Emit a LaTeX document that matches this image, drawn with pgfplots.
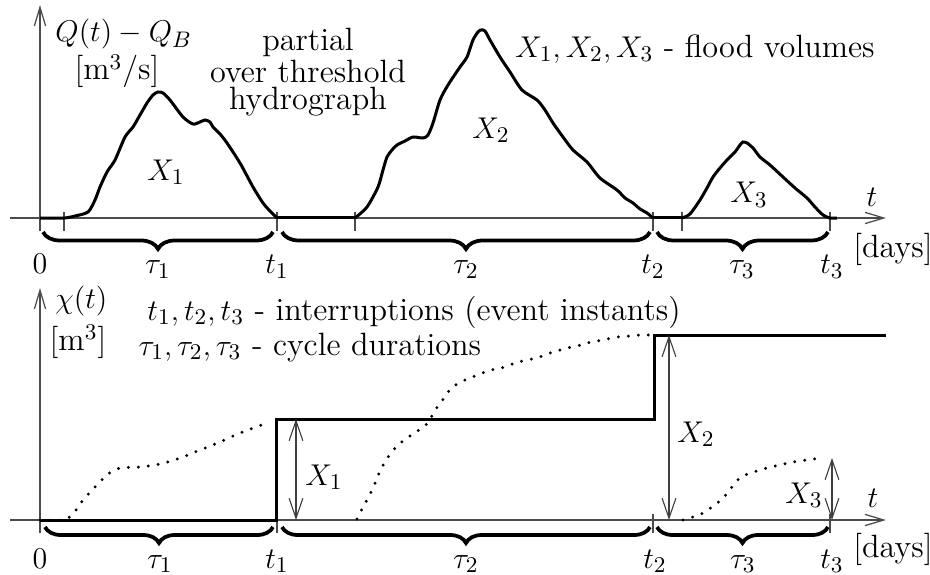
\documentclass[border=0pt]{standalone}
\usepackage{pgfplots}
\pgfplotsset{compat=1.18}
\usetikzlibrary{arrows.meta,decorations.pathreplacing}
\begin{document}
\begin{tikzpicture}[font=\fontsize{12.9}{14}\selectfont,
  lab/.style={inner sep=0pt},
  br/.style={decorate, line width=1.5pt},
  dbl/.style={line width=0.45pt, color=black!75, {Straight Barb[length=8pt,width=5.5pt]}-{Straight Barb[length=8pt,width=5.5pt]}}]
\pgfplotsset{
  myaxis/.style={
    x=0.4pt, y=0.4pt, xmin=-30, xmax=846, ymin=0,
    axis lines=middle, clip=false,
    axis line style={line width=0.5pt, color=black!70, -{Straight Barb[length=7.5pt,width=4.5pt]}},
    ytick=\empty, xticklabels={}, hide obscured x ticks=false,
    tick align=center, major tick length=7.6pt,
    xtick style={line width=0.5pt, color=black!70, yshift=-1.4pt},
  }
}
% ---------------- top panel ----------------
\begin{axis}[myaxis, ymax=213, xtick={0,24,237,315,613,642,790}]
\addplot[line width=1.2pt, smooth, tension=0.45] coordinates {
(0,0) (24,0) (35,2) (48,6) (55,18) (60,31) (67,46) (75,58) (85,81) (93,91) (100,103) (107,115) (113,123) (118,126) (123,125) (130,118) (143,101) (153,94) (160,96) (165,98) (170,96) (173,91) (180,84) (187,75) (200,55) (213,31) (223,15) (230,7) (237,0)
};
\addplot[line width=1.2pt] coordinates {(237,0) (315,0)};
\addplot[line width=1.2pt, smooth, tension=0.45] coordinates {
(315,0) (327,11) (338,31) (343,48) (347,61) (352,68) (357,73) (365,77) (373,81) (383,80) (388,83) (393,95) (400,118) (408,133) (420,151) (427,161) (433,178) (438,186) (441,188) (445,187) (450,178) (460,161) (470,146) (482,128) (497,118) (505,108) (513,95) (523,81) (533,68) (547,56) (560,40) (577,28) (585,20) (593,15) (600,9) (607,5) (613,0)
};
\addplot[line width=1.2pt] coordinates {(613,0) (642,0)};
\addplot[line width=1.2pt, smooth, tension=0.45] coordinates {
(642,0) (650,4) (660,18) (667,30) (673,41) (680,50) (687,58) (695,66) (700,73) (703,76) (707,75) (713,70) (720,61) (730,53) (743,41) (755,30) (767,20) (775,11) (783,3) (790,0) (797,0)
};
% braces
\draw[br, decoration={brace, mirror, amplitude=6.8pt}] (axis cs:3,-14) -- (axis cs:233,-14);
\draw[br, decoration={brace, mirror, amplitude=6.8pt}] (axis cs:242,-14) -- (axis cs:610,-14);
\draw[br, decoration={brace, mirror, amplitude=6.8pt}] (axis cs:617,-14) -- (axis cs:788,-14);
% labels
\node[lab, anchor=base] at (axis cs:0,-56) {$0$};
\node[lab, anchor=base] at (axis cs:118,-56) {$\tau_1$};
\node[lab, anchor=base] at (axis cs:237,-56) {$t_1$};
\node[lab, anchor=base] at (axis cs:426,-56) {$\tau_2$};
\node[lab, anchor=base] at (axis cs:613,-56) {$t_2$};
\node[lab, anchor=base] at (axis cs:702,-56) {$\tau_3$};
\node[lab, anchor=base] at (axis cs:792,-56) {$t_3$};
\node[lab, anchor=base] at (axis cs:853,-39) {[days]};
\node[lab, anchor=base] at (axis cs:832,11) {$t$};
\node[lab, anchor=base west] at (axis cs:15,176) {$Q(t)-Q_B$};
\node[lab, anchor=base] at (axis cs:77,138) {[m$^3$/s]};
\node[lab, anchor=north, align=center, font=\fontsize{12.9}{10.8}\selectfont] at (axis cs:268,190) {partial\\over threshold\\hydrograph};
\node[lab, anchor=base west] at (axis cs:475,161) {$X_1, X_2, X_3$ - flood volumes};
\node[lab, anchor=base west] at (axis cs:107,38) {$X_1$};
\node[lab, anchor=base west] at (axis cs:432,80) {$X_2$};
\node[lab, anchor=base west] at (axis cs:690,15) {$X_3$};
\end{axis}
% ---------------- bottom panel ----------------
\begin{axis}[myaxis, at={(0,-120.8pt)}, ymax=232, xtick={0,237,613,790}]
\addplot[line width=1.2pt] coordinates {(0,0) (237,0) (237,101) (615,101) (615,185) (846,185)};
\addplot[smooth, line width=1.3pt, line cap=round, dash pattern=on 0pt off 4pt] coordinates {
(0,0) (23,0) (33,6) (43,20) (57,35) (68,46) (80,52) (100,53) (120,56) (140,62) (160,70) (180,78) (200,87) (230,98)
};
\addplot[smooth, line width=1.3pt, line cap=round, dash pattern=on 0pt off 4pt] coordinates {
(317,1) (322,11) (327,20) (332,30) (336,39) (340,49) (345,58) (351,67) (358,75) (367,82) (376,88) (385,94) (390,101) (396,111) (402,119) (408,128) (417,136) (425,140) (435,144) (445,148) (455,151) (465,153) (475,157) (487,160) (497,162) (507,166) (517,169) (527,172) (537,174) (547,177) (557,179) (567,181) (578,183) (590,184) (600,185) (610,185)
};
\addplot[smooth, line width=1.3pt, line cap=round, dash pattern=on 0pt off 4pt] coordinates {
(643,0) (663,7) (683,22) (700,42) (720,50) (753,58) (783,62)
};
\addplot[dbl] coordinates {(256,0) (256,101)};
\addplot[dbl] coordinates {(629,0) (629,185)};
\addplot[dbl] coordinates {(792,0) (792,62)};
% braces
\draw[br, decoration={brace, mirror, amplitude=6.4pt}] (axis cs:5,-7) -- (axis cs:233,-7);
\draw[br, decoration={brace, mirror, amplitude=6.4pt}] (axis cs:242,-7) -- (axis cs:610,-7);
\draw[br, decoration={brace, mirror, amplitude=6.4pt}] (axis cs:617,-7) -- (axis cs:788,-7);
% labels
\node[lab, anchor=base] at (axis cs:0,-48) {$0$};
\node[lab, anchor=base] at (axis cs:120,-48) {$\tau_1$};
\node[lab, anchor=base] at (axis cs:237,-48) {$t_1$};
\node[lab, anchor=base] at (axis cs:426,-48) {$\tau_2$};
\node[lab, anchor=base] at (axis cs:615,-48) {$t_2$};
\node[lab, anchor=base] at (axis cs:703,-48) {$\tau_3$};
\node[lab, anchor=base] at (axis cs:792,-48) {$t_3$};
\node[lab, anchor=base] at (axis cs:853,-37) {[days]};
\node[lab, anchor=base] at (axis cs:833,13) {$t$};
\node[lab, anchor=base west] at (axis cs:15,212) {$\chi(t)$};
\node[lab, anchor=base] at (axis cs:38,170) {[m$^3$]};
\node[lab, anchor=base west] at (axis cs:107,200) {$t_1, t_2, t_3$ - interruptions (event instants)};
\node[lab, anchor=base west] at (axis cs:98,165) {$\tau_1, \tau_2, \tau_3$ - cycle durations};
\node[lab, anchor=base west] at (axis cs:265,35) {$X_1$};
\node[lab, anchor=base west] at (axis cs:637,78) {$X_2$};
\node[lab, anchor=base west] at (axis cs:745,17) {$X_3$};
\end{axis}
\pgfresetboundingbox
\useasboundingbox (-4pt,87.2pt) rectangle (368pt,-142.8pt);
\end{tikzpicture}
\end{document}
